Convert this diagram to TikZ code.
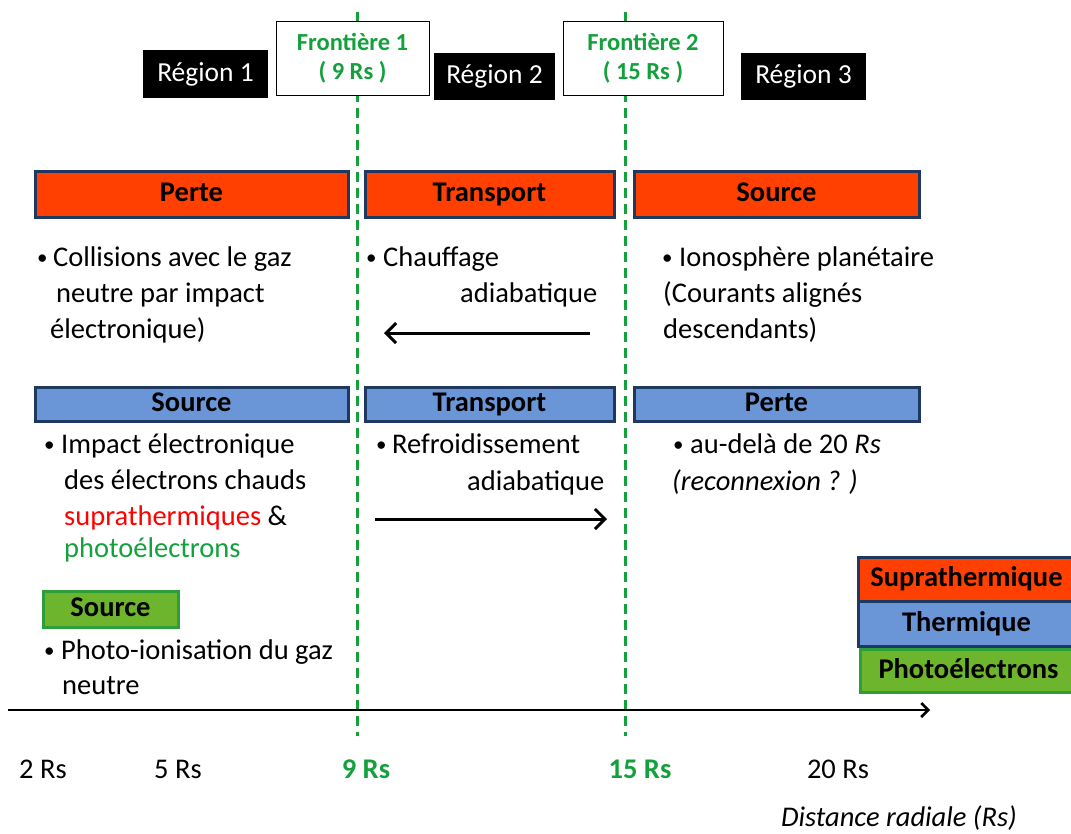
\documentclass[tikz,border=0pt]{standalone}
\usepackage{fontspec}
\setmainfont{Carlito}
\usetikzlibrary{arrows.meta}
\definecolor{orng}{RGB}{255,64,0}
\definecolor{blu}{RGB}{106,150,215}
\definecolor{dkblu}{RGB}{31,56,96}
\definecolor{grnfill}{RGB}{108,181,45}
\definecolor{grnbord}{RGB}{46,158,58}
\definecolor{grntxt}{RGB}{20,160,60}
\definecolor{redtxt}{RGB}{255,0,0}
\tikzset{
  hdr/.style={draw=dkblu,line width=3pt,minimum height=#1,inner sep=0pt,text height=20pt,text depth=6pt,font=\fontsize{28.5}{32}\selectfont\bfseries},
  txt/.style={anchor=base west,inner sep=0pt,font=\fontsize{28.5}{32}\selectfont},
  bul/.style={anchor=base west,inner sep=0pt,font=\fontsize{21}{24}\selectfont},
  axl/.style={anchor=base,inner sep=0pt,font=\fontsize{28.5}{32}\selectfont},
  regbox/.style={fill=black,text=white,inner sep=0pt,text height=19pt,text depth=5pt,font=\fontsize{27.5}{32}\selectfont},
  frbox/.style={draw=black,line width=1pt,fill=white,inner sep=0pt,align=center,text=grntxt,font=\fontsize{24.5}{29}\selectfont\bfseries},
  bound/.style={draw=grntxt,line width=3pt,dash pattern=on 10pt off 6pt},
  flow/.style={line width=3pt,-{Straight Barb[length=10pt,width=20pt,line width=3pt]}},
}
\begin{document}
\begin{tikzpicture}[x=1pt,y=-1pt]
\useasboundingbox (0,0) rectangle (1071,833);
% boundaries
\coordinate (b1t) at (357,12); \coordinate (b1b) at (357,736);
\coordinate (b2t) at (625,12); \coordinate (b2b) at (625,736);
\draw[bound] (b1t) -- (b1b);
\draw[bound] (b2t) -- (b2b);
% region labels
\node[regbox,minimum width=125pt,minimum height=48pt] (r1) at (205.5,74) {Région 1};
\node[regbox,minimum width=121pt,minimum height=47pt] (r2) at (494.5,76.5) {Région 2};
\node[regbox,minimum width=125pt,minimum height=47pt] (r3) at (803.5,76.5) {Région 3};
\node[frbox,minimum width=153pt,minimum height=74pt] (f1) at (352.5,58) {Frontière 1\\( 9 Rs )};
\node[frbox,minimum width=160pt,minimum height=74pt] (f2) at (643,58) {Frontière 2\\( 15 Rs )};
% orange row
\node[hdr=46pt,fill=orng,minimum width=313pt] (o1) at (191.5,194) {Perte};
\node[hdr=46pt,fill=orng,minimum width=249pt] (o2) at (489.5,194) {Transport};
\node[hdr=46pt,fill=orng,minimum width=285pt] (o3) at (776.5,194) {Source};
% orange texts
\node[bul] (t1b) at (37,264) {•};
\node[txt] (t1a) at (53,266) {Collisions avec le gaz};
\node[txt] (t1c) at (56,302) {neutre par impact};
\node[txt] (t1d) at (50,338) {électronique)};
\node[bul] (t2b) at (366,264) {•};
\node[txt] (t2a) at (383,266) {Chauffage};
\node[txt] (t2c) at (460,302) {adiabatique};
\node[bul] (t3b) at (662,264) {•};
\node[txt] (t3a) at (679,266) {Ionosphère planétaire};
\node[txt] (t3c) at (663,302) {(Courants alignés};
\node[txt] (t3d) at (663,338) {descendants)};
\coordinate (a1s) at (590,333); \coordinate (a1e) at (384,333);
\draw[flow] (a1s) -- (a1e);
% blue row
\node[hdr=34pt,fill=blu,minimum width=313pt] (u1) at (191.5,404) {Source};
\node[hdr=34pt,fill=blu,minimum width=249pt] (u2) at (489.5,404) {Transport};
\node[hdr=34pt,fill=blu,minimum width=285pt] (u3) at (776.5,404) {Perte};
\node[bul] (t4b) at (44,451) {•};
\node[txt] (t4a) at (61,453) {Impact électronique};
\node[txt] (t4c) at (64,489) {des électrons chauds};
\node[txt] (t4d) at (64,525) {\textcolor{redtxt}{suprathermiques} \&};
\node[txt,text=grntxt] (t4e) at (64,557) {photoélectrons};
\node[bul] (t5b) at (376,451) {•};
\node[txt] (t5a) at (392,453) {Refroidissement};
\node[txt] (t5c) at (467,490) {adiabatique};
\node[bul] (t6b) at (673,451) {•};
\node[txt] (t6a) at (690,453) {au-delà de 20 \textit{Rs}};
\node[txt] (t6c) at (672,490) {\textit{(reconnexion ? )}};
\coordinate (a2s) at (375,519); \coordinate (a2e) at (607,519);
\draw[flow] (a2s) -- (a2e);
% green source
\node[hdr=36pt,draw=grnbord,fill=grnfill,minimum width=135pt] (g1) at (110.5,609) {Source};
\node[bul] (t7b) at (44,657) {•};
\node[txt] (t7a) at (61,659) {Photo-ionisation du gaz};
\node[txt] (t7c) at (62,694) {neutre};
% legend
\node[hdr=44pt,fill=orng,minimum width=216pt,anchor=north west] (l1) at (857,556) {Suprathermique};
\node[hdr=45pt,fill=blu,minimum width=216pt,anchor=north west] (l2) at (857,600) {Thermique};
\node[hdr=43pt,draw=grnbord,fill=grnfill,minimum width=216pt,anchor=north west] (l3) at (859,648) {Photoélectrons};
% axis
\coordinate (ax0) at (8,710); \coordinate (ax1) at (930,710);
\draw[line width=2.5pt,-{Straight Barb[length=7pt,width=14pt,line width=2.5pt]}] (ax0) -- (ax1);
\node[axl] (x2) at (43,778) {2 Rs};
\node[axl] (x5) at (178,778) {5 Rs};
\node[axl,text=grntxt,font=\fontsize{28.5}{32}\selectfont\bfseries] (x9) at (366,778) {9 Rs};
\node[axl,text=grntxt,font=\fontsize{28.5}{32}\selectfont\bfseries] (x15) at (640,778) {15 Rs};
\node[axl] (x20) at (838,778) {20 Rs};
\node[axl,font=\fontsize{28.5}{32}\selectfont\itshape] (xl) at (899,826) {Distance radiale (Rs)};
\end{tikzpicture}
\end{document}
